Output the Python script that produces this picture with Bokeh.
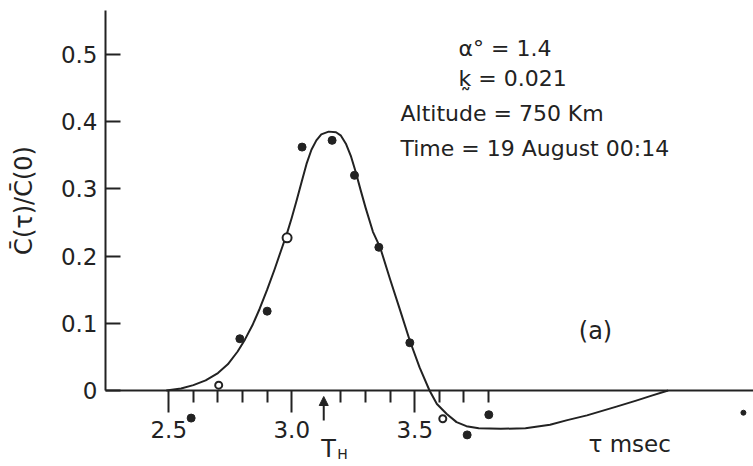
import numpy as np
from bokeh.plotting import figure
from bokeh.models import LinearAxis, FixedTicker, Range1d, Arrow, NormalHead, Label
from bokeh.embed import file_html
from bokeh.resources import INLINE

# ---------------- data ----------------
tau_curve = [2.49, 2.55, 2.60, 2.65, 2.70, 2.74, 2.78, 2.81, 2.84, 2.87,
             2.90, 2.93, 2.96, 2.98, 3.00, 3.02, 3.04, 3.06, 3.08, 3.10,
             3.12, 3.15, 3.18, 3.20, 3.22, 3.24, 3.26, 3.28, 3.30, 3.33,
             3.36, 3.40, 3.44, 3.48, 3.52, 3.56, 3.59, 3.63, 3.67, 3.71,
             3.76, 3.85, 3.95, 4.05, 4.12, 4.20, 4.32, 4.40, 4.46, 4.53]
c_curve = [0.000, 0.003, 0.008, 0.015, 0.026, 0.039, 0.058, 0.076, 0.097, 0.122,
           0.150, 0.180, 0.212, 0.233, 0.257, 0.283, 0.310, 0.337, 0.358, 0.372,
           0.381, 0.385, 0.384, 0.379, 0.367, 0.349, 0.325, 0.298, 0.272, 0.236,
           0.212, 0.165, 0.120, 0.074, 0.034, 0.000, -0.020, -0.035, -0.047, -0.053,
           -0.056, -0.057, -0.056, -0.051, -0.044, -0.037, -0.024, -0.015, -0.008, 0.000]

tau_filled = [2.591, 2.789, 2.900, 3.042, 3.164, 3.255, 3.354, 3.480, 3.713, 3.801]
c_filled = [-0.041, 0.077, 0.118, 0.362, 0.372, 0.320, 0.213, 0.071, -0.066, -0.036]

tau_open = [2.981]
c_open = [0.227]

tau_open_small = [2.703, 3.614]
c_open_small = [0.008, -0.042]

tau_far = [4.836]
c_far = [-0.033]

y_ticks = [0.0, 0.1, 0.2, 0.3, 0.4, 0.5]
y_tick_labels = {0.0: "0", 0.1: "0.1", 0.2: "0.2", 0.3: "0.3", 0.4: "0.4", 0.5: "0.5"}
x_major = [2.5, 3.0, 3.5]
x_minor = [2.6, 2.7, 2.8, 2.9, 3.2, 3.3, 3.4, 3.6, 3.7, 3.8]
x_tick_labels = {2.5: "2.5", 3.0: "3.0", 3.5: "3.5"}
T_H = 3.13

# ---------------- layout helpers ----------------
W, H = 753, 466
X0, X1 = 1.816, 4.877
Y0, Y1 = -0.113, 0.580


def px(xp):
    return X0 + xp / W * (X1 - X0)


def py(yp):
    return Y1 - yp / H * (Y1 - Y0)


INK = "#222222"
FONT = "DejaVu Sans"

p = figure(width=W, height=H, x_range=Range1d(X0, X1), y_range=Range1d(Y0, Y1),
           output_backend="svg", toolbar_location=None, min_border=0,
           x_axis_type=None, y_axis_type=None)
p.outline_line_color = None
p.background_fill_color = "white"
p.border_fill_color = "white"

# y axis
yaxis = LinearAxis(fixed_location=px(105), bounds=(0, py(10)),
                   ticker=FixedTicker(ticks=y_ticks, minor_ticks=[]),
                   major_label_overrides=y_tick_labels)
yaxis.axis_line_color = INK
yaxis.axis_line_width = 2
yaxis.major_tick_line_color = INK
yaxis.major_tick_line_width = 2
yaxis.major_tick_in = 15
yaxis.major_tick_out = 0
yaxis.minor_tick_line_color = None
yaxis.major_label_standoff = 8
yaxis.major_label_text_font = FONT
yaxis.major_label_text_font_size = "23px"
yaxis.major_label_text_color = INK
yaxis.axis_label = "C\u0304(\u03c4)/C\u0304(0)"
yaxis.axis_label_text_font = FONT
yaxis.axis_label_text_font_size = "24px"
yaxis.axis_label_text_font_style = "normal"
yaxis.axis_label_text_color = INK
yaxis.axis_label_standoff = 20
p.add_layout(yaxis, "left")

# x axis
xaxis = LinearAxis(fixed_location=0, bounds=(px(105), X1),
                   ticker=FixedTicker(ticks=x_major, minor_ticks=x_minor),
                   major_label_overrides=x_tick_labels)
xaxis.axis_line_color = INK
xaxis.axis_line_width = 2
xaxis.major_tick_line_color = INK
xaxis.major_tick_line_width = 2
xaxis.major_tick_in = 0
xaxis.major_tick_out = 22
xaxis.minor_tick_line_color = INK
xaxis.minor_tick_line_width = 2
xaxis.minor_tick_in = 0
xaxis.minor_tick_out = 12
xaxis.major_label_standoff = 8
xaxis.major_label_text_font = FONT
xaxis.major_label_text_font_size = "23px"
xaxis.major_label_text_color = INK
p.add_layout(xaxis, "below")

# curve and points
p.line(tau_curve, c_curve, line_color=INK, line_width=2, line_join="round")
p.scatter(tau_filled, c_filled, size=8, marker="circle", fill_color=INK, line_color=INK)
p.scatter(tau_open, c_open, size=9, marker="circle", fill_color="white", line_color=INK, line_width=2)
p.scatter(tau_open_small, c_open_small, size=7, marker="circle", fill_color="white", line_color=INK, line_width=2)
p.scatter(tau_far, c_far, size=5, marker="circle", fill_color=INK, line_color=INK)

# T_H arrow
p.add_layout(Arrow(end=NormalHead(size=9, fill_color=INK, line_color=INK),
                   x_start=T_H, y_start=py(420), x_end=T_H, y_end=py(396),
                   line_color=INK, line_width=2))


def lab(x, y, text, size, align="left", baseline="alphabetic"):
    p.add_layout(Label(x=x, y=y, text=text, text_font=FONT, text_font_size=size,
                       text_color=INK, text_align=align, text_baseline=baseline))


lab(px(328), py(448), "T", "24px", align="center")
lab(px(342), py(453), "H", "14px", align="center")

lab(px(458), py(48), "\u03b1\u00b0 = 1.4", "22px")
lab(px(458), py(78), "k\u0330 = 0.021", "22px")
lab(px(400), py(113), "Altitude = 750 Km", "22px")
lab(px(400), py(148), "Time = 19 August 00:14", "22px")
lab(px(595), py(330), "(a)", "24px", align="center", baseline="middle")
lab(px(588), py(443), "\u03c4 msec", "23px")

open("out.html", "w").write(file_html(p, INLINE))
